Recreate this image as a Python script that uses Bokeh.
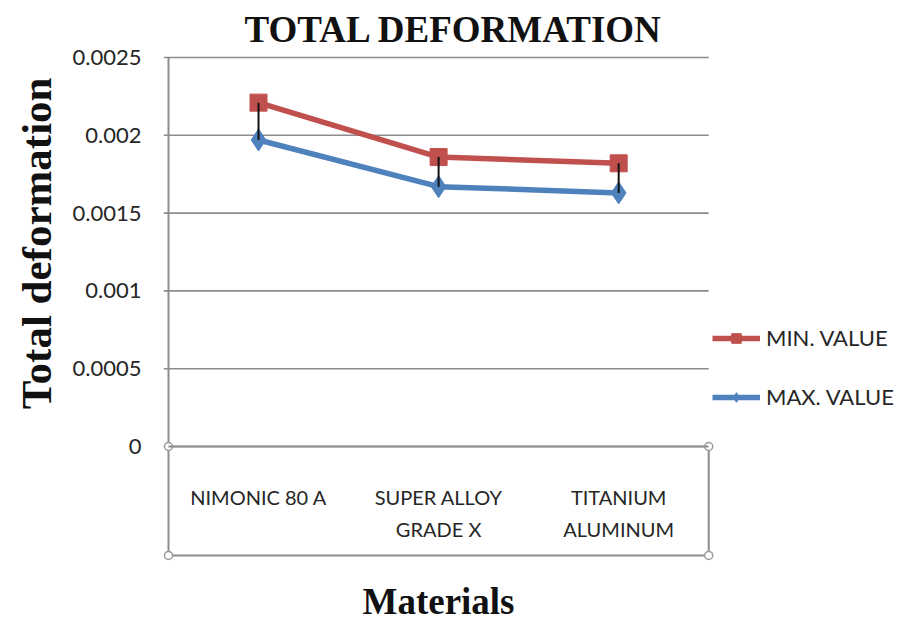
from bokeh.plotting import figure
from bokeh.models import Range1d, LinearAxis, FixedTicker, Title, Legend, LegendItem
from bokeh.embed import file_html
from bokeh.resources import INLINE

# ---- data ----
materials = ["NIMONIC 80 A", "SUPER ALLOY\nGRADE X", "TITANIUM\nALUMINUM"]
min_value = [0.00221, 0.00186, 0.00182]
max_value = [0.00197, 0.00167, 0.00163]
y_ticks = [0, 0.0005, 0.001, 0.0015, 0.002, 0.0025]
y_tick_labels = ["0", "0.0005", "0.001", "0.0015", "0.002", "0.0025"]
series_names = ["MIN. VALUE", "MAX. VALUE"]

x_pos = list(range(len(materials)))

# ---- styling / layout constants ----
RED = "#C0504D"
BLUE = "#4F81BD"
GRID = "#8C8C8C"
BOX_L, BOX_R = -0.5, len(materials) - 0.5
BOX_B = -0.0007
PAD_X = 0.0277

p = figure(width=900, height=623, output_backend="svg", toolbar_location=None,
           x_range=Range1d(BOX_L - PAD_X, 3.565),
           y_range=Range1d(-0.0011375, 0.0025129),
           x_axis_type=None, y_axis_type=None,
           min_border_left=162, min_border_right=0,
           min_border_top=55, min_border_bottom=0,
           background_fill_color="white", border_fill_color="white")
p.outline_line_color = None
p.grid.visible = False

# gridlines (with short tick stubs to the left of the axis)
p.segment(x0=BOX_L - PAD_X, x1=BOX_R, y0=y_ticks, y1=y_ticks,
          line_color=GRID, line_width=1.6)

# box around category axis + vertical value axis line
p.segment(x0=[BOX_L, BOX_L, BOX_R], x1=[BOX_L, BOX_R, BOX_R],
          y0=[BOX_B, BOX_B, BOX_B], y1=[max(y_ticks), BOX_B, 0],
          line_color=GRID, line_width=2)

# series
l1 = p.line(x_pos, min_value, line_color=RED, line_width=5.5)
l2 = p.line(x_pos, max_value, line_color=BLUE, line_width=5.5)
m1 = p.scatter(x_pos, min_value, marker="square", size=17,
               fill_color=RED, line_color=RED)
m2 = p.scatter(x_pos, max_value, marker="diamond", size=22,
               fill_color=BLUE, line_color=BLUE)

# high-low drop lines
p.segment(x0=x_pos, x1=x_pos, y0=min_value, y1=max_value,
          line_color="#111111", line_width=2)

# selection handles at the box corners
p.scatter([BOX_L, BOX_R, BOX_L, BOX_R], [0, 0, BOX_B, BOX_B], marker="circle",
          size=8, fill_color="white", line_color="#9A9A9A", line_width=1.5)

# value axis
yaxis = LinearAxis(ticker=FixedTicker(ticks=y_ticks),
                   major_label_overrides=dict(zip(y_ticks, y_tick_labels)))
yaxis.axis_line_color = None
yaxis.major_tick_line_color = None
yaxis.minor_tick_line_color = None
yaxis.major_tick_out = 0
yaxis.major_tick_in = 0
yaxis.major_label_standoff = 22
yaxis.major_label_text_font = "Lato"
yaxis.major_label_text_font_size = "22px"
yaxis.major_label_text_color = "#262626"
p.add_layout(yaxis, "left")

# category axis drawn at y = 0
xaxis = LinearAxis(ticker=FixedTicker(ticks=x_pos),
                   major_label_overrides=dict(zip(x_pos, materials)),
                   fixed_location=0, bounds=(BOX_L, BOX_R))
xaxis.axis_line_color = GRID
xaxis.axis_line_width = 2
xaxis.major_tick_line_color = None
xaxis.minor_tick_line_color = None
xaxis.major_tick_out = 0
xaxis.major_tick_in = 0
xaxis.major_label_standoff = 38
xaxis.major_label_text_font = "Lato"
xaxis.major_label_text_font_size = "20px"
xaxis.major_label_text_color = "#262626"
xaxis.major_label_text_line_height = 1.37
xaxis.axis_label = "Materials"
xaxis.axis_label_standoff = 37
xaxis.axis_label_text_font = "Liberation Serif"
xaxis.axis_label_text_font_size = "37px"
xaxis.axis_label_text_font_style = "bold"
xaxis.axis_label_text_color = "#111111"
p.add_layout(xaxis, "below")

# legend
legend = Legend(items=[LegendItem(label=series_names[0], renderers=[l1, m1]),
                       LegendItem(label=series_names[1], renderers=[l2, m2])],
                location=(549, 151 + 62), border_line_color=None, background_fill_alpha=0,
                padding=0, margin=0, glyph_width=48, glyph_height=24,
                label_height=24, spacing=32, label_standoff=6,
                label_text_font="Lato", label_text_font_size="22px",
                label_text_color="#262626")
p.add_layout(legend, "center")

# titles
p.add_layout(Title(text="TOTAL DEFORMATION", align="left", offset=81,
                   text_font="Liberation Serif", text_font_size="37px",
                   text_font_style="bold", text_color="#111111", standoff=12), "above")
p.add_layout(Title(text="Total deformation", align="right", offset=22,
                   text_font="Liberation Serif", text_font_size="43px",
                   text_font_style="bold", text_color="#111111", standoff=20), "left")

open("out.html", "w").write(file_html(p, INLINE))
